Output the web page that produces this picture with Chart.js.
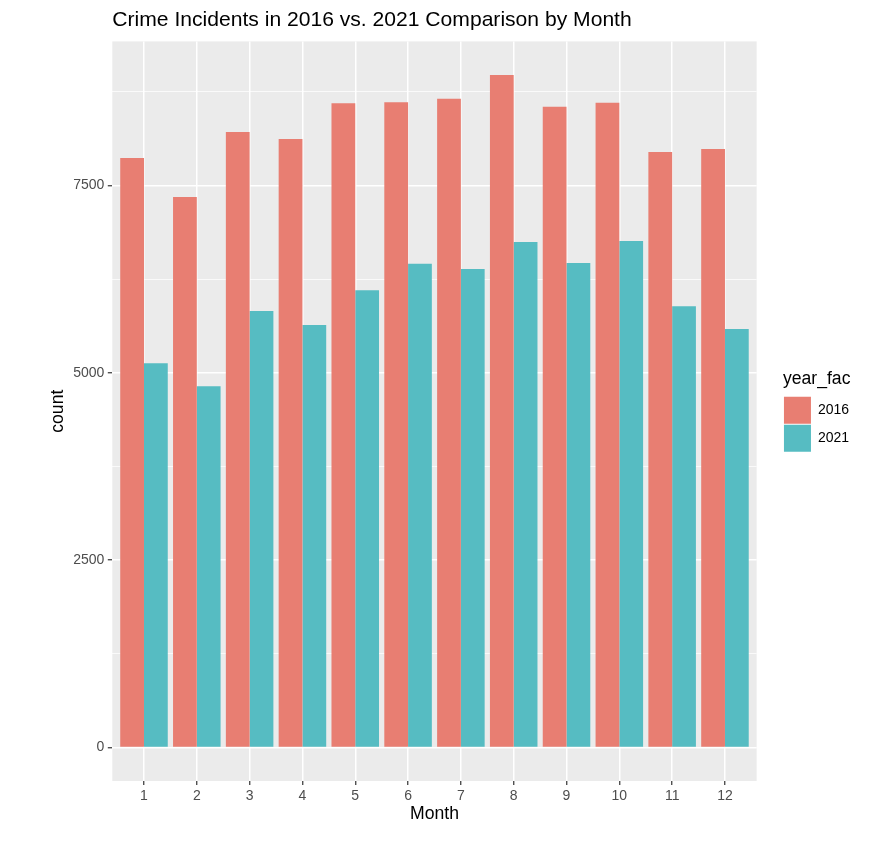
<!DOCTYPE html>
<html>
<head>
<meta charset="utf-8">
<title>Crime Incidents in 2016 vs. 2021</title>
<script src="https://cdn.jsdelivr.net/npm/chart.js@4.4.0/dist/chart.umd.min.js"></script>
<style>
  html, body { margin: 0; padding: 0; background: #ffffff; }
  #grafico { display: block; }
</style>
</head>
<body>
<canvas id="grafico" width="880" height="848"></canvas>
<script>
// data
const months = [1, 2, 3, 4, 5, 6, 7, 8, 9, 10, 11, 12];
const counts2016 = [7867, 7347, 8214, 8121, 8597, 8611, 8659, 8975, 8552, 8605, 7947, 7987];
const counts2021 = [5127, 4821, 5825, 5639, 6102, 6457, 6386, 6746, 6466, 6760, 5888, 5585];
const yearLabels = ['2016', '2021'];
const yTicks = [0, 1250, 2500, 3750, 5000, 6250, 7500, 8750];
const yMajor = [0, 2500, 5000, 7500];

const isMajor = (v) => yMajor.includes(v);

// grey panel behind the bars, like ggplot
const panelBg = {
    id: 'panelBg',
    beforeDraw(chart) {
        const {ctx, chartArea} = chart;
        ctx.save();
        ctx.fillStyle = '#ffffff';
        ctx.fillRect(0, 0, chart.width, chart.height);
        ctx.fillStyle = '#EBEBEB';
        ctx.fillRect(chartArea.left, chartArea.top, chartArea.right - chartArea.left, chartArea.bottom - chartArea.top);
        ctx.restore();
    },
    afterLayout(chart) {
        // title starts at the panel edge, legend sits a bit away from it
        chart.titleBlock.left = chart.chartArea.left;
        const lg = chart.legend;
        lg.left = chart.chartArea.right + 26.3;
        lg.right = lg.left + lg.width;
    }
};

const grafico = document.getElementById('grafico').getContext('2d');
Chart.defaults.font.family = "'Liberation Sans', Arial, sans-serif";

const myChart = new Chart(grafico, {
    type: 'bar',
    data: {
        datasets: [{
            label: yearLabels[0],
            data: months.map((m, i) => ({x: m, y: counts2016[i]})),
            backgroundColor: '#E87E72',
            borderWidth: 0
        }, {
            label: yearLabels[1],
            data: months.map((m, i) => ({x: m, y: counts2021[i]})),
            backgroundColor: '#56BCC2',
            borderWidth: 0
        }]
    },
    options: {
        responsive: false,
        animation: false,
        categoryPercentage: 0.9,
        barPercentage: 1.0,
        layout: { padding: { left: 0, right: 47.2, top: 0, bottom: 0 } },
        plugins: {
            tooltip: { enabled: false },
            title: {
                display: true,
                text: 'Crime Incidents in 2016 vs. 2021 Comparison by Month',
                align: 'start',
                color: '#000000',
                font: { size: 21.1, weight: 'normal' },
                padding: { top: 7.64, bottom: 8.44 }
            },
            legend: {
                position: 'right',
                fullSize: false,
                title: {
                    display: true,
                    text: 'year_fac',
                    position: 'start',
                    color: '#000000',
                    font: { size: 17.6 },
                    padding: { top: 0.8, bottom: 4.08 }
                },
                labels: {
                    boxWidth: 27,
                    boxHeight: 27,
                    padding: 1,
                    color: '#000000',
                    font: { size: 14 }
                }
            }
        },
        scales: {
            x: {
                type: 'linear',
                min: 0.4,
                max: 12.6,
                offset: false,
                afterBuildTicks: (scale) => { scale.ticks = months.map(v => ({value: v})); },
                afterFit: (scale) => { scale.height = 67; },
                ticks: {
                    color: '#4D4D4D',
                    font: { size: 14 },
                    padding: 2.5,
                    maxRotation: 0,
                    callback: (v) => String(v)
                },
                grid: {
                    offset: false,
                    color: '#ffffff',
                    lineWidth: 1.5,
                    tickColor: '#333333',
                    tickLength: 4,
                    tickWidth: 1.2
                },
                border: { display: false },
                title: {
                    display: true,
                    text: 'Month',
                    color: '#000000',
                    font: { size: 17.6 },
                    padding: { top: 0, bottom: 23.44 }
                }
            },
            y: {
                min: -448.75,
                max: 9423.75,
                afterBuildTicks: (scale) => { scale.ticks = yTicks.map(v => ({value: v})); },
                afterFit: (scale) => { scale.width = 112.3; },
                ticks: {
                    color: '#4D4D4D',
                    font: { size: 14 },
                    padding: 3.5,
                    autoSkip: false,
                    callback: (v) => isMajor(v) ? String(v) : ''
                },
                grid: {
                    color: '#ffffff',
                    lineWidth: (ctx) => isMajor(ctx.tick.value) ? 1.5 : 0.75,
                    tickColor: (ctx) => isMajor(ctx.tick.value) ? '#333333' : 'rgba(0,0,0,0)',
                    tickLength: 4.5,
                    tickWidth: 1.2
                },
                border: { display: false },
                title: {
                    display: true,
                    text: 'count',
                    color: '#000000',
                    font: { size: 17.6 },
                    padding: { top: 47.84, bottom: 0 }
                }
            }
        }
    },
    plugins: [panelBg]
});
</script>
</body>
</html>
